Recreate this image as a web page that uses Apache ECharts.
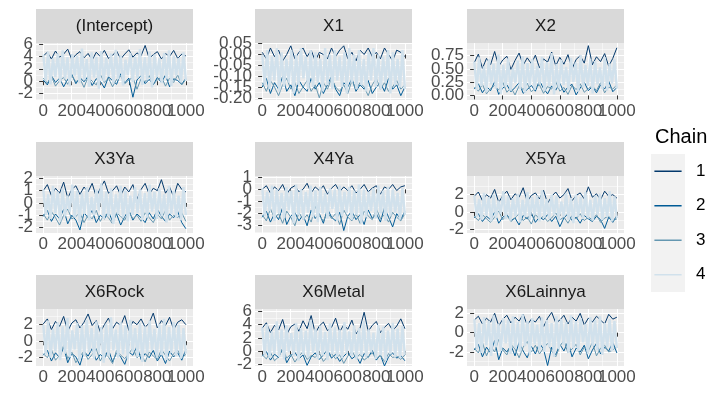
<!DOCTYPE html>
<html><head><meta charset="utf-8">
<script src="https://cdn.jsdelivr.net/npm/echarts@6/dist/echarts.min.js"></script>
<style>html,body{margin:0;padding:0;background:#fff}#c{width:712px;height:400px}</style>
</head><body><div id="c"></div>
<script>
// ---- data ----
const iterTicks = [0, 200, 400, 600, 800, 1000];
const iterMinor = [100, 300, 500, 700, 900];
const chainNames = ['1', '2', '3', '4'];
const panelNames = ['(Intercept)', 'X1', 'X2', 'X3Ya', 'X4Ya', 'X5Ya', 'X6Rock', 'X6Metal', 'X6Lainnya'];

const yTicksIntercept = [-2, 0, 2, 4, 6];
const yTicksX1 = [-0.20, -0.15, -0.10, -0.05, 0.00, 0.05];
const yTicksX2 = [0.00, 0.25, 0.50, 0.75];
const yTicksX3Ya = [-2, -1, 0, 1, 2];
const yTicksX4Ya = [-3, -2, -1, 0, 1];
const yTicksX5Ya = [-2, 0, 2];
const yTicksX6Rock = [-2, 0, 2];
const yTicksX6Metal = [-2, 0, 2, 4, 6];
const yTicksX6Lainnya = [-2, 0, 2];

const traceIntercept = [
 [4.1,4.7,3.6,4.9,3.9,4.4,5.2,3.5,4.3,4.8,3.8,4.5,3.4,4.7,4.0,5.0,3.7,4.2,4.9,3.6,4.4,5.1,3.9,4.6,4.1,5.8,3.7,4.3,4.8,3.6,4.5,4.0,5.0,3.7,4.4,4.1],
 [0.2,-0.6,0.9,-0.2,0.5,-0.9,0.3,1.1,-0.4,0.6,-0.1,0.8,-0.7,0.4,0.0,-1.1,0.7,0.1,-0.5,1.2,-0.3,0.5,-2.6,0.2,0.9,-0.4,0.3,-0.6,0.6,-0.2,1.0,-0.9,0.4,0.1,-0.5,0.5],
 [0.5,-0.3,0.8,-0.8,0.1,0.6,-0.5,0.9,-0.1,0.4,-1.0,0.7,0.0,-0.6,1.1,-0.2,0.5,-0.9,0.3,0.8,-0.4,0.2,0.6,-1.3,0.4,-0.1,0.9,-0.5,0.2,0.7,-0.8,0.5,-0.2,1.0,-0.6,0.3],
 [4.3,0.1,4.8,-0.5,3.7,0.7,4.5,-0.2,5.0,0.4,3.9,-0.8,4.4,0.9,4.1,-0.3,5.3,0.2,3.6,-0.9,4.7,0.6,4.0,-1.2,4.9,0.0,3.8,0.8,4.5,-0.4,5.1,0.3,4.2,-0.7,3.5,1.0,4.6,-0.1,4.0,0.5,5.2,-0.6,3.9,0.2,4.8,-1.0,4.3,0.7,3.7,-0.3,4.6,0.4,5.0,-0.8,4.1,0.9,3.8,-0.2,4.7,0.1]
];
const traceX1 = [
 [0.01,-0.02,0.03,-0.01,0.02,-0.03,0.00,0.04,-0.02,0.01,0.03,-0.01,0.02,-0.03,0.01,0.00,-0.02,0.03,-0.01,0.02,0.04,-0.02,0.01,-0.03,0.02,0.00,0.03,-0.01,0.01,-0.02,0.03,0.00,-0.03,0.02,0.01,-0.01],
 [-0.15,-0.11,-0.18,-0.13,-0.16,-0.10,-0.17,-0.14,-0.19,-0.12,-0.15,-0.17,-0.11,-0.16,-0.13,-0.18,-0.14,-0.10,-0.16,-0.19,-0.13,-0.15,-0.11,-0.17,-0.14,-0.16,-0.12,-0.18,-0.15,-0.13,-0.17,-0.11,-0.16,-0.14,-0.19,-0.15],
 [-0.13,-0.17,-0.12,-0.15,-0.19,-0.14,-0.11,-0.16,-0.13,-0.18,-0.15,-0.12,-0.17,-0.14,-0.20,-0.13,-0.16,-0.11,-0.15,-0.17,-0.14,-0.18,-0.12,-0.16,-0.13,-0.15,-0.19,-0.14,-0.11,-0.16,-0.13,-0.17,-0.15,-0.12,-0.16,-0.14],
 [0.00,-0.14,0.02,-0.16,-0.01,-0.12,0.03,-0.17,0.01,-0.15,-0.02,-0.13,0.02,-0.18,0.00,-0.14,0.03,-0.11,-0.01,-0.16,0.02,-0.15,0.01,-0.13,-0.02,-0.17,0.03,-0.14,0.00,-0.16,0.02,-0.12,-0.01,-0.15,0.01,-0.18,0.03,-0.13,0.00,-0.16,0.02,-0.14,-0.02,-0.17,0.01,-0.12,0.03,-0.15,0.00,-0.16,-0.01,-0.13,0.02,-0.18,0.01,-0.14,-0.02,-0.15,0.02,-0.16]
];
const traceX2 = [
 [0.62,0.78,0.51,0.70,0.58,0.83,0.55,0.67,0.74,0.49,0.66,0.80,0.57,0.71,0.60,0.76,0.52,0.69,0.63,0.82,0.56,0.72,0.59,0.77,0.50,0.68,0.75,0.61,0.94,0.58,0.73,0.64,0.79,0.55,0.70,0.90],
 [0.12,0.22,0.05,0.17,0.09,0.26,0.02,0.14,0.20,0.07,0.15,0.24,0.04,0.11,0.19,0.08,0.28,0.13,0.03,0.18,0.10,0.23,0.06,0.16,0.21,0.01,0.14,0.25,0.09,0.17,0.05,0.20,0.12,0.27,0.07,0.15],
 [0.16,0.08,0.21,0.03,0.13,0.19,0.10,0.25,0.06,0.15,0.01,0.18,0.11,0.23,0.07,0.14,0.20,0.04,0.17,0.12,0.26,0.08,0.15,0.02,0.19,0.11,0.22,0.06,0.13,0.18,0.09,0.24,0.05,0.16,0.12,0.20],
 [0.64,0.10,0.72,0.18,0.55,0.06,0.68,0.21,0.60,0.13,0.77,0.03,0.58,0.16,0.70,0.09,0.52,0.24,0.66,0.12,0.74,0.05,0.61,0.19,0.69,0.11,0.56,0.22,0.73,0.08,0.63,0.17,0.80,0.02,0.59,0.14,0.67,0.20,0.54,0.10,0.71,0.25,0.62,0.07,0.76,0.15,0.57,0.18,0.69,0.04,0.65,0.21,0.53,0.12,0.72,0.09,0.60,0.23,0.68,0.13]
];
const traceX3Ya = [
 [1.0,1.5,0.6,1.2,0.8,1.7,0.4,1.1,1.4,0.7,1.3,0.9,1.6,0.5,1.2,1.8,0.8,1.0,1.4,0.6,1.3,0.9,1.5,0.3,1.1,1.6,0.7,1.2,1.0,1.9,0.8,1.3,0.5,1.6,1.1,0.9],
 [-1.1,-0.6,-1.5,-0.9,-1.3,-0.5,-1.7,-1.0,-1.4,-2.2,-0.8,-1.2,-0.6,-1.6,-1.0,-1.3,-0.7,-1.5,-0.9,-1.8,-1.1,-0.6,-1.4,-0.9,-1.2,-1.6,-0.8,-1.3,-0.5,-1.1,-1.5,-0.9,-1.2,-0.7,-1.6,-2.1],
 [-0.9,-1.4,-0.7,-1.2,-1.8,-1.0,-0.5,-1.3,-1.1,-0.8,-1.6,-1.0,-1.3,-0.6,-1.5,-0.9,-1.2,-1.7,-0.8,-1.1,-1.4,-0.7,-1.3,-1.0,-1.5,-0.8,-1.2,-1.6,-0.9,-1.3,-0.6,-1.4,-1.0,-1.2,-0.8,-1.5],
 [1.1,-1.0,0.7,-1.3,1.4,-0.8,0.9,-1.5,1.2,-1.1,0.6,-0.7,1.5,-1.2,1.0,-1.6,0.8,-0.9,1.3,-1.4,0.5,-1.0,1.1,-0.6,1.6,-1.3,0.9,-1.1,1.2,-1.7,0.7,-0.9,1.4,-1.2,1.0,-1.5,0.6,-1.0,1.3,-0.8,1.1,-1.4,0.8,-1.2,1.5,-0.7,0.9,-1.3,1.2,-1.1,0.7,-1.6,1.4,-0.9,1.0,-1.2,0.6,-1.4,1.3,-1.0]
];
const traceX4Ya = [
 [0.0,0.3,-0.3,0.2,-0.1,0.4,-0.4,0.1,0.3,-0.2,0.0,0.5,-0.3,0.2,-0.1,0.3,-0.4,0.1,0.4,-0.2,0.2,-0.1,0.3,-0.3,0.0,0.4,-0.2,0.1,0.3,-0.4,0.2,0.0,0.4,-0.1,0.2,0.3],
 [-2.3,-1.8,-2.7,-2.0,-2.5,-1.5,-2.9,-2.2,-1.9,-2.6,-2.1,-3.0,-1.7,-2.4,-2.0,-2.8,-1.6,-2.3,-2.6,-1.9,-3.4,-2.2,-1.8,-2.5,-2.1,-2.9,-1.7,-2.4,-2.0,-2.7,-1.5,-2.3,-3.1,-2.0,-2.5,-1.8],
 [-2.1,-2.6,-1.6,-2.4,-2.0,-2.8,-1.8,-2.3,-3.0,-1.9,-2.5,-2.1,-2.7,-1.4,-2.2,-2.6,-1.9,-2.4,-2.0,-2.9,-1.7,-2.3,-2.6,-2.0,-2.8,-1.8,-2.2,-2.5,-1.6,-2.4,-2.1,-2.7,-1.9,-2.3,-2.6,-2.0],
 [0.1,-2.2,-0.2,-1.8,0.3,-2.6,0.0,-2.0,-0.3,-2.4,0.2,-1.7,-0.1,-2.8,0.4,-2.1,0.0,-2.5,-0.2,-1.9,0.3,-2.3,-0.1,-2.7,0.2,-2.0,-0.3,-2.4,0.1,-1.6,0.0,-2.6,0.3,-2.2,-0.2,-1.9,0.2,-2.5,-0.1,-2.1,0.4,-2.8,0.0,-2.3,-0.2,-1.8,0.1,-2.4,0.3,-2.0,-0.1,-2.6,0.2,-2.2,0.0,-1.9,-0.3,-2.5,0.1,-2.1]
];
const traceX5Ya = [
 [1.8,2.3,1.3,2.0,1.6,2.6,1.1,1.9,2.4,1.4,2.1,1.7,2.8,1.2,1.9,2.2,1.5,2.5,1.0,1.8,2.3,1.6,2.0,2.7,1.3,1.9,2.2,1.5,2.9,1.7,2.1,1.4,2.4,1.8,2.0,1.6],
 [-0.7,-0.2,-1.1,-0.5,-0.9,0.0,-1.3,-0.6,-0.3,-1.0,-0.7,-1.5,-0.4,-0.8,-0.1,-1.2,-0.6,-0.9,-0.3,-1.1,-0.5,-1.7,-0.7,-0.2,-1.0,-0.6,-1.3,-0.4,-0.8,-1.1,-0.5,-0.9,-1.9,-0.6,-1.2,-0.4],
 [-0.5,-1.0,-0.3,-0.8,-1.2,-0.6,0.1,-0.9,-0.4,-1.1,-0.7,-0.2,-1.0,-0.6,-1.4,-0.3,-0.8,-0.5,-1.1,-0.7,-0.1,-0.9,-0.6,-1.3,-0.4,-0.8,-0.2,-1.0,-0.6,-0.9,-0.3,-1.2,-0.7,-0.5,-1.0,-0.8],
 [1.9,-0.6,1.5,-0.9,2.2,-0.4,1.7,-1.1,2.0,-0.7,1.3,-0.2,2.4,-0.8,1.8,-1.0,1.6,-0.5,2.1,-1.2,1.4,-0.6,2.3,-0.9,1.7,-0.3,1.9,-1.1,2.5,-0.7,1.5,-0.8,2.0,-0.4,1.8,-1.0,1.2,-0.6,2.2,-0.9,1.6,-1.3,2.0,-0.5,1.7,-0.8,2.3,-0.7,1.4,-1.0,1.9,-0.3,2.1,-0.9,1.6,-0.6,2.4,-1.1,1.8,-0.7]
];
const traceX6Rock = [
 [2.1,2.7,1.4,2.4,1.8,3.0,1.2,2.2,2.6,1.6,2.3,3.3,1.9,2.5,1.1,2.0,2.8,1.5,2.3,1.9,3.1,1.3,2.4,2.0,2.7,1.7,2.2,3.4,1.6,2.5,1.9,2.9,1.4,2.3,2.6,2.0],
 [-1.7,-1.1,-2.4,-1.4,-2.0,-0.7,-2.6,-1.5,-1.9,-2.9,-1.2,-1.8,-0.9,-2.3,-1.6,-2.1,-1.0,-2.5,-1.4,-1.9,-2.8,-1.3,-1.7,-0.6,-2.2,-1.5,-2.0,-1.1,-2.4,-1.6,-2.7,-1.2,-1.9,-1.4,-2.3,-1.0],
 [-1.5,-2.0,-1.0,-2.3,-1.7,-0.5,-2.1,-1.3,-2.6,-1.8,-1.2,-2.2,-1.6,-0.9,-2.4,-1.4,-1.9,-2.7,-1.1,-1.7,-2.1,-1.5,-0.8,-2.0,-1.6,-2.5,-1.3,-1.8,-2.2,-1.0,-1.7,-2.4,-1.5,-1.1,-2.0,-1.6],
 [2.0,-1.6,2.5,-2.0,1.5,-1.2,2.3,-2.3,1.8,-1.5,2.8,-1.9,1.3,-1.0,2.2,-2.4,1.9,-1.7,2.6,-1.3,1.6,-2.1,2.4,-1.4,1.7,-2.6,2.1,-1.8,2.9,-1.1,1.4,-2.0,2.3,-1.6,1.9,-2.2,2.6,-1.3,1.6,-1.9,2.2,-2.5,1.8,-1.5,2.5,-1.1,1.5,-2.0,2.1,-1.7,2.7,-2.3,1.7,-1.4,2.3,-1.8,2.0,-2.1,1.6,-1.5]
];
const traceX6Metal = [
 [3.5,4.3,2.8,3.9,3.2,4.8,2.5,3.7,4.1,3.0,4.6,3.4,5.4,2.7,3.8,4.4,3.1,3.6,5.0,2.9,4.0,3.3,4.7,2.6,3.5,5.9,3.0,3.9,4.5,2.8,3.6,4.2,3.1,3.8,4.9,3.4],
 [-0.8,-0.1,-1.4,-0.5,-1.0,0.3,-1.8,-0.7,-0.2,-1.2,-0.6,-2.2,-0.9,-0.3,-1.3,-0.6,0.2,-1.1,-0.5,-1.6,-0.8,-0.2,-1.2,-0.7,-1.9,-0.4,-1.0,0.1,-1.4,-0.6,-2.3,-0.9,-0.3,-1.1,-0.7,-1.5],
 [-0.6,-1.2,-0.2,-1.5,-0.9,0.4,-1.1,-0.5,-1.7,-0.8,-0.1,-1.3,-0.7,-1.0,-0.3,-1.6,-0.9,-0.4,-1.2,-0.6,-1.9,-0.8,0.0,-1.1,-0.5,-1.4,-0.9,-0.3,-1.2,-0.7,-1.6,-0.4,-1.0,-0.8,-1.3,-0.6],
 [3.6,-0.7,4.1,-1.1,3.0,-0.4,4.5,-0.9,3.3,-1.3,3.9,-0.2,2.7,-0.8,4.3,-1.5,3.5,-0.6,3.1,-1.0,4.7,-0.3,3.4,-1.2,3.8,-0.7,2.9,-1.4,4.2,-0.5,3.6,-0.9,3.2,-1.1,4.4,-0.4,3.0,-0.8,3.9,-1.3,3.5,-0.6,4.6,-1.0,3.3,-0.2,2.8,-1.2,4.0,-0.7,3.7,-1.5,3.1,-0.5,4.3,-0.9,3.4,-1.1,3.8,-0.6]
];
const traceX6Lainnya = [
 [1.3,1.7,0.9,1.5,1.1,2.0,0.7,1.4,1.8,1.0,1.6,1.2,1.9,0.8,1.4,1.1,1.7,0.6,1.5,2.1,1.0,1.3,1.8,0.9,1.6,1.2,2.0,0.8,1.5,1.1,1.7,1.3,0.9,1.9,1.4,1.6],
 [-1.8,-1.2,-2.5,-1.5,-2.1,-0.8,-2.8,-1.6,-2.0,-1.3,-2.4,-1.0,-1.9,-2.6,-1.4,-2.2,-1.1,-1.7,-3.4,-1.5,-2.3,-1.2,-1.9,-0.9,-2.5,-1.6,-2.0,-1.3,-2.7,-1.8,-1.1,-2.2,-1.5,-1.9,-1.0,-2.1],
 [-1.6,-2.1,-1.0,-2.4,-1.4,-2.0,-0.7,-1.8,-2.3,-1.2,-1.7,-2.6,-1.5,-0.9,-2.0,-1.3,-2.2,-1.6,-1.1,-1.9,-2.5,-1.4,-0.8,-2.1,-1.7,-1.2,-2.3,-1.5,-1.9,-1.0,-2.4,-1.6,-1.3,-2.0,-1.8,-1.4],
 [1.4,-1.7,1.0,-2.1,1.6,-1.3,1.2,-2.4,1.8,-1.5,0.9,-1.9,1.5,-1.1,1.3,-2.2,1.7,-1.6,1.1,-2.0,1.9,-1.4,1.2,-2.3,1.5,-1.2,0.8,-1.8,1.6,-2.0,1.3,-1.5,1.0,-2.5,1.7,-1.7,1.4,-1.3,1.1,-2.1,1.8,-1.6,1.2,-1.9,1.5,-1.0,0.9,-2.2,1.6,-1.4,1.3,-1.8,1.7,-2.3,1.0,-1.5,1.4,-1.9,1.2,-1.6]
];

// ---- layout / style ----
const FONT = "'Liberation Sans', Arial, sans-serif";
const chainColors = ['#03396c', '#005b96', '#6497b1', '#d1e1ec'];
const chainWidths = [1, 1, 1, 2.4];
const colLeft = [36, 255, 467];
const rowTop = [43, 176, 309];
const panelW = 157, panelH = 57, stripH = 34;

const panels = [
  { trace: traceIntercept, ticks: yTicksIntercept, range: [-3.05, 6.2], dec: 0 },
  { trace: traceX1, ticks: yTicksX1, range: [-0.21, 0.053], dec: 2 },
  { trace: traceX2, ticks: yTicksX2, range: [-0.086, 0.99], dec: 2 },
  { trace: traceX3Ya, ticks: yTicksX3Ya, range: [-2.45, 2.2], dec: 0 },
  { trace: traceX4Ya, ticks: yTicksX4Ya, range: [-3.6, 1.1], dec: 0 },
  { trace: traceX5Ya, ticks: yTicksX5Ya, range: [-2.43, 4.15], dec: 0 },
  { trace: traceX6Rock, ticks: yTicksX6Rock, range: [-3.0, 3.9], dec: 0 },
  { trace: traceX6Metal, ticks: yTicksX6Metal, range: [-2.3, 6.4], dec: 0 },
  { trace: traceX6Lainnya, ticks: yTicksX6Lainnya, range: [-3.45, 2.45], dec: 0 }
];

function minorOf(ticks, range) {
  const step = ticks[1] - ticks[0];
  const out = [];
  for (let i = -1; i < ticks.length; i++) {
    const v = +(ticks[0] + step * (i + 0.5)).toFixed(6);
    if (v >= range[0] && v <= range[1]) out.push(v);
  }
  return out;
}
const evens = a => a.filter((_, j) => j % 2 === 0);
const odds = a => a.filter((_, j) => j % 2 === 1);

const grid = [], xAxis = [], yAxis = [], series = [], graphic = [];
const labelBase = { fontSize: 17, color: '#4D4D4D', margin: 3, fontFamily: FONT, hideOverlap: false };
panels.forEach((p, i) => {
  const r = Math.floor(i / 3), c = i % 3;
  const left = colLeft[c], top = rowTop[r];
  grid.push({ left, top, width: panelW, height: panelH, show: true, backgroundColor: '#EBEBEB',
    borderWidth: 0, containLabel: false, outerBoundsMode: 'none' });
  const xi = xAxis.length, yi = yAxis.length;
  // x: ticks + gridlines + even labels
  xAxis.push({ type: 'value', gridIndex: i, min: -50, max: 1050, position: 'bottom',
    axisLine: { show: false },
    axisTick: { show: true, length: 4, lineStyle: { color: '#333333', width: 1 }, customValues: iterTicks },
    axisLabel: Object.assign({ show: true, customValues: evens(iterTicks), formatter: v => String(v) }, labelBase),
    splitLine: { show: true, lineStyle: { color: '#FFFFFF', width: 1.1 } } });
  // x: odd labels only
  xAxis.push({ type: 'value', gridIndex: i, min: -50, max: 1050, position: 'bottom',
    axisLine: { show: false }, axisTick: { show: false, customValues: odds(iterTicks) },
    axisLabel: Object.assign({ show: true, customValues: odds(iterTicks), formatter: v => String(v) }, labelBase),
    splitLine: { show: false } });
  // x: minor gridlines
  xAxis.push({ type: 'value', gridIndex: i, min: -50, max: 1050, position: 'top',
    axisLine: { show: false }, axisTick: { show: false, customValues: iterMinor }, axisLabel: { show: false },
    splitLine: { show: true, lineStyle: { color: '#FFFFFF', width: 0.5 } } });
  // y: ticks + gridlines + even labels
  yAxis.push({ type: 'value', gridIndex: i, min: p.range[0], max: p.range[1], position: 'left',
    axisLine: { show: false },
    axisTick: { show: true, length: 4, lineStyle: { color: '#333333', width: 1 }, customValues: p.ticks },
    axisLabel: Object.assign({ show: true, customValues: evens(p.ticks), formatter: v => (+v).toFixed(p.dec) }, labelBase),
    splitLine: { show: true, lineStyle: { color: '#FFFFFF', width: 1.1 } } });
  // y: odd labels only
  yAxis.push({ type: 'value', gridIndex: i, min: p.range[0], max: p.range[1], position: 'left',
    axisLine: { show: false }, axisTick: { show: false, customValues: odds(p.ticks) },
    axisLabel: Object.assign({ show: true, customValues: odds(p.ticks), formatter: v => (+v).toFixed(p.dec) }, labelBase),
    splitLine: { show: false } });
  // y: minor gridlines
  yAxis.push({ type: 'value', gridIndex: i, min: p.range[0], max: p.range[1], position: 'right',
    axisLine: { show: false }, axisTick: { show: false, customValues: minorOf(p.ticks, p.range) }, axisLabel: { show: false },
    splitLine: { show: true, lineStyle: { color: '#FFFFFF', width: 0.5 } } });
  p.trace.forEach((vals, k) => {
    const n = vals.length;
    series.push({ type: 'line', name: chainNames[k], xAxisIndex: xi, yAxisIndex: yi,
      data: vals.map((v, j) => [1 + j * 999 / (n - 1), v]),
      symbol: 'none', showSymbol: false, silent: true, animation: false, clip: true,
      lineStyle: { color: chainColors[k], width: chainWidths[k] }, itemStyle: { color: chainColors[k] },
      emphasis: { disabled: true } });
  });
  graphic.push({ type: 'rect', shape: { x: left, y: top - stripH, width: panelW, height: stripH },
    style: { fill: '#D9D9D9' }, silent: true });
  graphic.push({ type: 'text', x: left + panelW / 2, y: top - stripH / 2,
    style: { text: panelNames[i], font: '17px ' + FONT, fill: '#1A1A1A', align: 'center', verticalAlign: 'middle' }, silent: true });
});

// legend title and key background
graphic.push({ type: 'text', x: 655, y: 137,
  style: { text: 'Chain', font: '20px ' + FONT, fill: '#000000', align: 'left', verticalAlign: 'middle' }, silent: true });
graphic.push({ type: 'rect', shape: { x: 651, y: 154, width: 34, height: 138 }, style: { fill: '#F2F2F2' }, silent: true, z: -1 });

const chart = echarts.init(document.getElementById('c'), null, { renderer: 'canvas' });
chart.setOption({
  animation: false,
  backgroundColor: '#FFFFFF',
  grid, xAxis, yAxis, series, graphic,
  legend: {
    data: chainNames, orient: 'vertical', left: 651, top: 154, padding: 0,
    itemWidth: 40, itemHeight: 34.5, itemGap: 0, selectedMode: false,
    icon: 'path://M0,0M3.4,16.6h27.2v1.4h-27.2zM40,34.5',
    itemStyle: { borderWidth: 0 },
    textStyle: { fontSize: 17, color: '#000000', fontFamily: FONT }
  }
});
</script>
</body></html>
